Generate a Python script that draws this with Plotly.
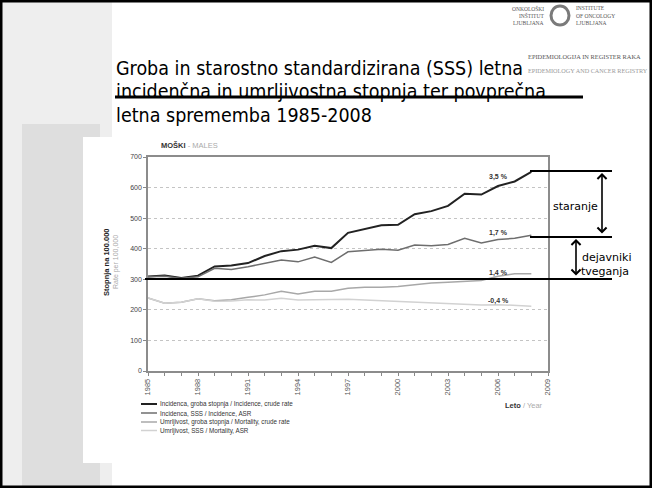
import plotly.graph_objects as go

# values (males, rate per 100,000)
years = list(range(1985, 2009))
inc_crude = [309, 312, 304, 312, 342, 345, 353, 376, 392, 397, 410, 402,
             452, 465, 477, 478, 513, 523, 540, 580, 577, 605, 620, 651]
inc_asr = [308, 310, 303, 308, 336, 332, 341, 352, 363, 357, 373, 355,
           390, 394, 398, 395, 412, 410, 414, 434, 419, 430, 434, 444]
mort_crude = [239, 222, 225, 236, 230, 233, 241, 249, 261, 252, 261, 261,
              271, 274, 274, 276, 282, 288, 290, 292, 296, 310, 318, 318]
mort_asr = [239, 222, 225, 236, 228, 229, 233, 232, 238, 232, 233, 233,
            235, 232, 230, 228, 226, 224, 221, 218, 216, 217, 215, 212]

series_names = ['Incidenca, groba stopnja / Incidence, crude rate',
                'Incidenca, SSS / Incidence, ASR',
                'Umrljivost, groba stopnja / Mortality, crude rate',
                'Umrljivost, SSS / Mortality, ASR']
series_values = [inc_crude, inc_asr, mort_crude, mort_asr]
change_labels = ['3,5 %', '1,7 %', '1,4 %', '-0,4 %']
change_label_y = [634, 451, 320, 229]

title_lines = ['Groba in starostno standardizirana (SSS) letna',
               'incidenčna in umrljivostna stopnja ter povprečna',
               'letna sprememba 1985-2008']

colors = ['#222222', '#6e6e6e', '#a8a8a8', '#d2d2d2']
widths = [2, 1.5, 1.5, 1.5]

W, H = 652, 488
L, R, T, B = 148, 104, 157, 117
PW, PH = W - L - R, H - T - B


def X(p):
    return (p - L) / PW


def Y(p):
    return (H - B - p) / PH


fig = go.Figure()
for name, vals, c, w in zip(series_names, series_values, colors, widths):
    fig.add_trace(go.Scatter(x=years, y=vals, mode='lines', name=name,
                             line=dict(color=c, width=w), showlegend=False))

shapes = []
# slide background pieces
shapes.append(dict(type='rect', xref='paper', yref='paper', x0=X(0), x1=X(112), y0=Y(488), y1=Y(0),
                   fillcolor='#eeeeee', line_width=0, layer='below'))
shapes.append(dict(type='rect', xref='paper', yref='paper', x0=X(22), x1=X(100), y0=Y(488), y1=Y(124),
                   fillcolor='#dedede', line_width=0, layer='below'))
shapes.append(dict(type='rect', xref='paper', yref='paper', x0=X(83), x1=X(652), y0=Y(463), y1=Y(137),
                   fillcolor='white', line_width=0, layer='below'))
# slide frame
shapes.append(dict(type='rect', xref='paper', yref='paper', x0=X(1), x1=X(651), y0=Y(487), y1=Y(1),
                   line=dict(color='black', width=3)))
# title underline
shapes.append(dict(type='line', xref='paper', yref='paper', x0=X(115), x1=X(583), y0=Y(97), y1=Y(97),
                   line=dict(color='black', width=3)))
# black guide lines
for x0, y in [(145, 279), (530, 237), (530, 171)]:
    shapes.append(dict(type='line', xref='paper', yref='paper', x0=X(x0), x1=X(612), y0=Y(y), y1=Y(y),
                       line=dict(color='black', width=2)))
# logo ring
shapes.append(dict(type='circle', xref='paper', yref='paper', x0=X(551), x1=X(569), y0=Y(25), y1=Y(6),
                   line=dict(color='#7a7a7a', width=3)))
# legend swatches
leg_y = [404, 413, 422, 430.5]
for c, w, y in zip(colors, widths, leg_y):
    shapes.append(dict(type='line', xref='paper', yref='paper', x0=X(141), x1=X(157), y0=Y(y), y1=Y(y),
                       line=dict(color=c, width=w)))

ann = []
# logo texts (drawn first so the title sits on top)
logo_font = dict(family='Liberation Serif', size=5.5, color='#555555')
for txt, y in [('ONKOLOŠKI', 8), ('INŠTITUT', 15.5), ('LJUBLJANA', 23)]:
    ann.append(dict(xref='paper', yref='paper', x=X(546), y=Y(y), text=txt, showarrow=False,
                    xanchor='right', yanchor='middle', font=logo_font))
for txt, y in [('INSTITUTE', 8), ('OF ONCOLOGY', 15.5), ('LJUBLJANA', 23)]:
    ann.append(dict(xref='paper', yref='paper', x=X(574), y=Y(y), text=txt, showarrow=False,
                    xanchor='left', yanchor='middle', font=logo_font))
ann.append(dict(xref='paper', yref='paper', x=X(526), y=Y(57), text='EPIDEMIOLOGIJA IN REGISTER RAKA',
                showarrow=False, xanchor='left', yanchor='middle',
                font=dict(family='Liberation Serif', size=6.4, color='#555555')))
ann.append(dict(xref='paper', yref='paper', x=X(526), y=Y(70), text='EPIDEMIOLOGY AND CANCER REGISTRY',
                showarrow=False, xanchor='left', yanchor='middle',
                font=dict(family='Liberation Serif', size=6.2, color='#999999')))

title_font = dict(family='DejaVu Sans Condensed, DejaVu Sans', size=19.5, color='black')
for line, mid in zip(title_lines, [69, 92, 116]):
    ann.append(dict(xref='paper', yref='paper', x=X(114), y=Y(mid), text=line, showarrow=False,
                    xanchor='left', yanchor='middle', font=title_font))

ann.append(dict(xref='paper', yref='paper', x=X(159), y=Y(145),
                text='<b>MOŠKI</b><span style="color:#aaaaaa"> - MALES</span>', showarrow=False,
                xanchor='left', yanchor='middle',
                font=dict(family='Liberation Sans', size=7.5, color='#333333')))
ann.append(dict(xref='paper', yref='paper', x=X(106), y=Y(262), text='<b>Stopnja na 100.000</b>',
                textangle=-90, showarrow=False, xanchor='center', yanchor='middle',
                font=dict(family='Liberation Sans', size=7.5, color='#222222')))
ann.append(dict(xref='paper', yref='paper', x=X(116), y=Y(262), text='Rate per 100,000',
                textangle=-90, showarrow=False, xanchor='center', yanchor='middle',
                font=dict(family='Liberation Sans', size=7, color='#aaaaaa')))
ann.append(dict(xref='paper', yref='paper', x=X(545), y=Y(405),
                text='<b>Leto</b><span style="color:#aaaaaa"> / Year</span>', showarrow=False,
                xanchor='right', yanchor='middle',
                font=dict(family='Liberation Sans', size=7.5, color='#333333')))

for lab, yv in zip(change_labels, change_label_y):
    ann.append(dict(x=2006.05, y=yv, text='<b>' + lab + '</b>', showarrow=False,
                    xanchor='center', yanchor='middle',
                    font=dict(family='Liberation Sans', size=7, color='#333333')))

for name, y in zip(series_names, leg_y):
    ann.append(dict(xref='paper', yref='paper', x=X(158), y=Y(y), text=name, showarrow=False,
                    xanchor='left', yanchor='middle',
                    font=dict(family='Liberation Sans', size=6.3, color='#333333')))

note_font = dict(family='DejaVu Sans', size=11, color='black')
ann.append(dict(xref='paper', yref='paper', x=X(551), y=Y(206), text='staranje', showarrow=False,
                xanchor='left', yanchor='middle', font=note_font))
ann.append(dict(xref='paper', yref='paper', x=X(580), y=Y(257), text='dejavniki', showarrow=False,
                xanchor='left', yanchor='middle', font=note_font))
ann.append(dict(xref='paper', yref='paper', x=X(579), y=Y(271), text='tveganja', showarrow=False,
                xanchor='left', yanchor='middle', font=note_font))

# double arrows with open heads
for xa, ya, yb in [(602, 173, 235), (576, 239, 277)]:
    ann.append(dict(xref='paper', yref='paper', x=X(xa), y=Y(ya), ax=0, ay=yb - ya, text='',
                    showarrow=True, arrowhead=4, arrowside='end+start', arrowsize=1.1,
                    arrowwidth=1.6, arrowcolor='black', standoff=0, startstandoff=0))

fig.update_layout(
    width=W, height=H,
    margin=dict(l=L, r=R, t=T, b=B),
    paper_bgcolor='white', plot_bgcolor='rgba(0,0,0,0)',
    shapes=shapes, annotations=ann,
    xaxis=dict(range=[1985, 2009], tickvals=list(range(1985, 2010, 3)), tickangle=-90,
               ticks='outside', ticklen=3, tickcolor='#888888',
               minor=dict(dtick=1, ticks='outside', ticklen=3, tickcolor='#888888', showgrid=False),
               showgrid=False, zeroline=False, showline=True, linecolor='#8c8c8c', linewidth=1.5,
               mirror=True, tickfont=dict(family='Liberation Sans', size=7.5, color='#555555')),
    yaxis=dict(range=[0, 700], tickvals=list(range(0, 800, 100)), ticks='outside', ticklen=3,
               tickcolor='#888888', showgrid=True, gridcolor='#c4c4c4', griddash='dot', gridwidth=1,
               zeroline=False, showline=True, linecolor='#8c8c8c', linewidth=1.5, mirror=True,
               tickfont=dict(family='Liberation Sans', size=7, color='#444444')),
)

# page body margin would push the slide 8px off its frame
fig.write_html('out.html', config={'displayModeBar': False},
               post_script="document.body.style.margin='0px';")
